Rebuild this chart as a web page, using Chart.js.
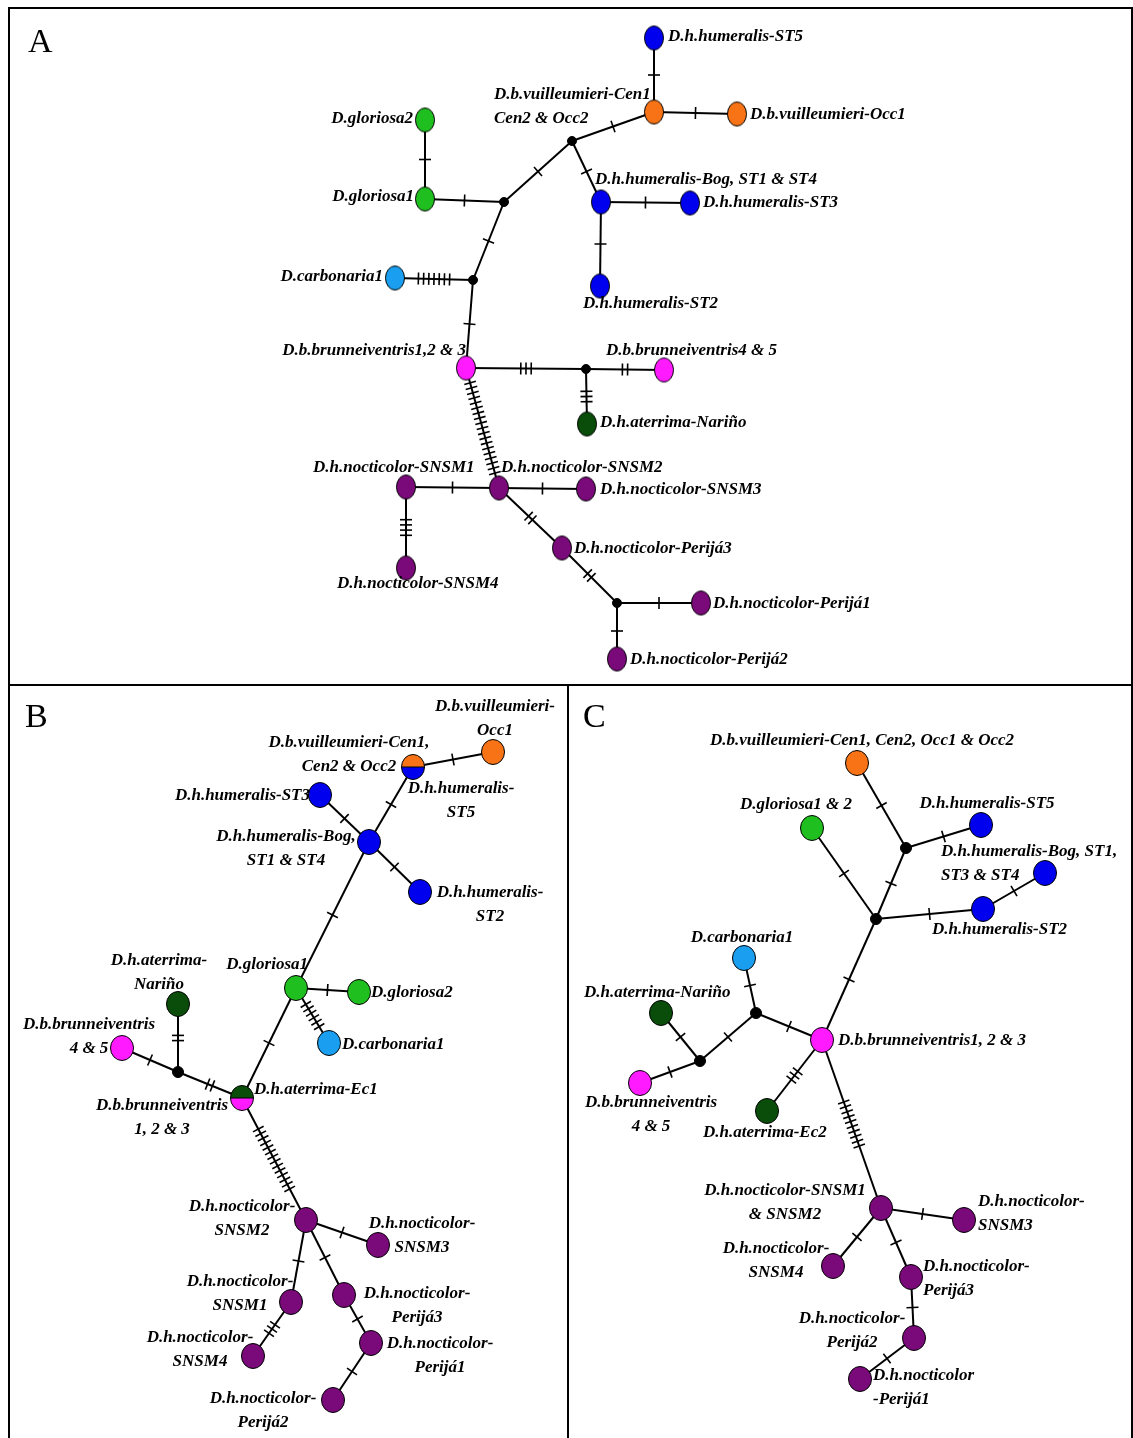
<!DOCTYPE html>
<html>
<head>
<meta charset="utf-8">
<script src="https://cdn.jsdelivr.net/npm/chart.js@4"></script>
<style>
  html, body { margin: 0; padding: 0; background: #fff; }
  #net { display: block; }
</style>
</head>
<body>
<canvas id="net" width="1133" height="1438"></canvas>
<script>
// Haplotype networks A, B, C - nodes, edges (number of mutation steps) and labels

// nodes: id, position on the figure plane, taxon ('mv' = median vector)
var nodeIds = [
  'A.hST5', 'A.vCen', 'A.vOcc1', 'A.mv1', 'A.glo2', 'A.glo1', 'A.mv2', 'A.hBog', 'A.hST3', 'A.hST2',
  'A.car', 'A.mv3', 'A.b123', 'A.mv4', 'A.b45', 'A.aNar', 'A.nS1', 'A.nS2', 'A.nS3', 'A.nS4',
  'A.nP3', 'A.mv5', 'A.nP1', 'A.nP2',
  'B.vOcc1', 'B.vCen', 'B.hST3', 'B.hBog', 'B.hST2', 'B.glo1', 'B.glo2', 'B.car', 'B.aNar', 'B.b45',
  'B.mv1', 'B.aEc1', 'B.nS2', 'B.nS3', 'B.nS1', 'B.nP3', 'B.nS4', 'B.nP1', 'B.nP2',
  'C.vAll', 'C.glo', 'C.hST5', 'C.mv1', 'C.hBog', 'C.mv2', 'C.hST2', 'C.car', 'C.mv3', 'C.aNar',
  'C.mv4', 'C.b123', 'C.b45', 'C.aEc2', 'C.nS12', 'C.nS3', 'C.nS4', 'C.nP3', 'C.nP2', 'C.nP1'
];
var nodeX = [
  654, 654, 737, 572, 425, 425, 504, 601, 690, 600,
  395, 473, 466, 586, 664, 587, 406, 499, 586, 406,
  562, 617, 701, 617,
  493, 413, 320, 369, 420, 296, 359, 329, 178, 122,
  178, 242, 306, 378, 291, 344, 253, 371, 333,
  857, 812, 981, 906, 1045, 876, 983, 744, 756, 661,
  700, 822, 640, 767, 881, 964, 833, 911, 914, 860
];
var nodeY = [
  38, 112, 114, 141, 120, 199, 202, 202, 203, 286,
  278, 280, 368, 369, 370, 424, 487, 488, 489, 568,
  548, 603, 603, 659,
  752, 767, 795, 842, 892, 988, 992, 1043, 1004, 1048,
  1072, 1098, 1220, 1245, 1302, 1295, 1356, 1343, 1400,
  763, 828, 825, 848, 873, 919, 909, 958, 1013, 1013,
  1061, 1040, 1083, 1111, 1208, 1220, 1266, 1277, 1338, 1379
];
var nodeTaxon = [
  'hum', 'vui', 'vui', 'mv', 'glo', 'glo', 'mv', 'hum', 'hum', 'hum',
  'car', 'mv', 'bru', 'mv', 'bru', 'ate', 'noc', 'noc', 'noc', 'noc',
  'noc', 'mv', 'noc', 'noc',
  'vui', 'vui/hum', 'hum', 'hum', 'hum', 'glo', 'glo', 'car', 'ate', 'bru',
  'mv', 'ate/bru', 'noc', 'noc', 'noc', 'noc', 'noc', 'noc', 'noc',
  'vui', 'glo', 'hum', 'mv', 'hum', 'mv', 'hum', 'car', 'mv', 'ate',
  'mv', 'bru', 'bru', 'ate', 'noc', 'noc', 'noc', 'noc', 'noc', 'noc'
];

// edges: from, to, mutation steps
var edgeFrom = [
  'A.hST5', 'A.vCen', 'A.vCen', 'A.mv1', 'A.mv1', 'A.glo2', 'A.glo1', 'A.mv2', 'A.hBog', 'A.hBog',
  'A.car', 'A.mv3', 'A.b123', 'A.mv4', 'A.mv4', 'A.b123', 'A.nS1', 'A.nS2', 'A.nS1', 'A.nS2',
  'A.nP3', 'A.mv5', 'A.mv5',
  'B.vOcc1', 'B.vCen', 'B.hST3', 'B.hBog', 'B.hBog', 'B.glo1', 'B.glo1', 'B.glo1', 'B.b45', 'B.aNar',
  'B.mv1', 'B.aEc1', 'B.nS2', 'B.nS2', 'B.nS2', 'B.nS1', 'B.nP3', 'B.nP1',
  'C.vAll', 'C.mv1', 'C.mv1', 'C.glo', 'C.mv2', 'C.hST2', 'C.mv2', 'C.car', 'C.mv3', 'C.mv3',
  'C.aNar', 'C.mv4', 'C.b123', 'C.b123', 'C.nS12', 'C.nS12', 'C.nS12', 'C.nP3', 'C.nP2'
];
var edgeTo = [
  'A.vCen', 'A.vOcc1', 'A.mv1', 'A.mv2', 'A.hBog', 'A.glo1', 'A.mv2', 'A.mv3', 'A.hST3', 'A.hST2',
  'A.mv3', 'A.b123', 'A.mv4', 'A.b45', 'A.aNar', 'A.nS2', 'A.nS2', 'A.nS3', 'A.nS4', 'A.nP3',
  'A.mv5', 'A.nP1', 'A.nP2',
  'B.vCen', 'B.hBog', 'B.hBog', 'B.hST2', 'B.glo1', 'B.glo2', 'B.car', 'B.aEc1', 'B.mv1', 'B.mv1',
  'B.aEc1', 'B.nS2', 'B.nS3', 'B.nS1', 'B.nP3', 'B.nS4', 'B.nP1', 'B.nP2',
  'C.mv1', 'C.hST5', 'C.mv2', 'C.mv2', 'C.hST2', 'C.hBog', 'C.b123', 'C.mv3', 'C.b123', 'C.mv4',
  'C.mv4', 'C.b45', 'C.aEc2', 'C.nS12', 'C.nS3', 'C.nS4', 'C.nP3', 'C.nP2', 'C.nP1'
];
var edgeSteps = [
  1, 1, 1, 1, 1, 1, 1, 1, 1, 1,
  7, 1, 3, 2, 3, 19, 1, 1, 4, 2,
  2, 1, 1,
  1, 1, 1, 1, 1, 1, 6, 1, 1, 2,
  2, 14, 1, 1, 1, 3, 1, 1,
  1, 1, 1, 1, 1, 1, 1, 1, 1, 1,
  1, 1, 3, 10, 1, 1, 1, 1, 1
];

// label texts (one entry per label)
var labelLines = [
  ['D.h.humeralis-ST5'], ['D.b.vuilleumieri-Cen1', 'Cen2 & Occ2'], ['D.b.vuilleumieri-Occ1'],
  ['D.gloriosa2'], ['D.gloriosa1'], ['D.h.humeralis-Bog, ST1 & ST4'], ['D.h.humeralis-ST3'],
  ['D.h.humeralis-ST2'], ['D.carbonaria1'], ['D.b.brunneiventris1,2 & 3'], ['D.b.brunneiventris4 & 5'],
  ['D.h.aterrima-Nariño'], ['D.h.nocticolor-SNSM1'], ['D.h.nocticolor-SNSM2'], ['D.h.nocticolor-SNSM3'],
  ['D.h.nocticolor-SNSM4'], ['D.h.nocticolor-Perijá3'], ['D.h.nocticolor-Perijá1'], ['D.h.nocticolor-Perijá2'],

  ['D.b.vuilleumieri-', 'Occ1'], ['D.b.vuilleumieri-Cen1,', 'Cen2 & Occ2'], ['D.h.humeralis-', 'ST5'],
  ['D.h.humeralis-ST3'], ['D.h.humeralis-Bog,', 'ST1 & ST4'], ['D.h.humeralis-', 'ST2'],
  ['D.h.aterrima-', 'Nariño'], ['D.gloriosa1'], ['D.gloriosa2'], ['D.carbonaria1'],
  ['D.b.brunneiventris', '4 & 5'], ['D.h.aterrima-Ec1'], ['D.b.brunneiventris', '1, 2 & 3'],
  ['D.h.nocticolor-', 'SNSM2'], ['D.h.nocticolor-', 'SNSM3'], ['D.h.nocticolor-', 'SNSM1'],
  ['D.h.nocticolor-', 'Perijá3'], ['D.h.nocticolor-', 'SNSM4'], ['D.h.nocticolor-', 'Perijá1'],
  ['D.h.nocticolor-', 'Perijá2'],

  ['D.b.vuilleumieri-Cen1, Cen2, Occ1 & Occ2'], ['D.gloriosa1 & 2'], ['D.h.humeralis-ST5'],
  ['D.h.humeralis-Bog, ST1,', 'ST3 & ST4'], ['D.h.humeralis-ST2'], ['D.carbonaria1'],
  ['D.h.aterrima-Nariño'], ['D.b.brunneiventris1, 2 & 3'], ['D.b.brunneiventris', '4 & 5'],
  ['D.h.aterrima-Ec2'], ['D.h.nocticolor-SNSM1', '& SNSM2'], ['D.h.nocticolor-', 'SNSM3'],
  ['D.h.nocticolor-', 'SNSM4'], ['D.h.nocticolor-', 'Perijá3'], ['D.h.nocticolor-', 'Perijá2'],
  ['D.h.nocticolor', '-Perijá1']
];

var panelLetters = ['A', 'B', 'C'];

// ---- layout / style (not data) ----
var labelPlace = [
  [668, 37, 'left'], [494, 95, 'left'], [750, 115, 'left'],
  [413, 119, 'right'], [414, 197, 'right'], [595, 180, 'left'], [703, 203, 'left'],
  [583, 304, 'left'], [383, 277, 'right'], [466, 351, 'right'], [606, 351, 'left'],
  [600, 423, 'left'], [313, 468, 'left'], [501, 468, 'left'], [600, 490, 'left'],
  [337, 584, 'left'], [574, 549, 'left'], [713, 604, 'left'], [630, 660, 'left'],

  [495, 707, 'center'], [349, 743, 'center'], [461, 789, 'center'],
  [310, 796, 'right'], [286, 837, 'center'], [490, 893, 'center'],
  [159, 961, 'center'], [308, 965, 'right'], [371, 993, 'left'], [342, 1045, 'left'],
  [89, 1025, 'center'], [254, 1090, 'left'], [162, 1106, 'center'],
  [242, 1207, 'center'], [422, 1224, 'center'], [240, 1282, 'center'],
  [417, 1294, 'center'], [200, 1338, 'center'], [440, 1344, 'center'],
  [263, 1399, 'center'],

  [862, 741, 'center'], [796, 805, 'center'], [987, 804, 'center'],
  [941, 852, 'left'], [932, 930, 'left'], [742, 938, 'center'],
  [584, 993, 'left'], [838, 1041, 'left'], [651, 1103, 'center'],
  [703, 1133, 'left'], [785, 1191, 'center'], [978, 1202, 'left'],
  [776, 1249, 'center'], [923, 1267, 'left'], [852, 1319, 'center'],
  [873, 1376, 'left']
];
var letterPlace = [[28, 43], [25, 718], [583, 718]];

var taxonColor = {
  hum: '#0000ee', vui: '#f77316', glo: '#1fbf1f', car: '#1a9ff0',
  bru: '#ff1aff', ate: '#0a4d0a', noc: '#7a0a7a', mv: '#000000'
};

function makeNode(rx, ry, top, bottom) {
  var c = document.createElement('canvas');
  c.width = Math.ceil(rx * 2 + 3);
  c.height = Math.ceil(ry * 2 + 3);
  var g = c.getContext('2d');
  var cx = c.width / 2, cy = c.height / 2;
  g.lineWidth = 1;
  g.strokeStyle = '#000';
  if (bottom) {
    g.fillStyle = top;
    g.beginPath(); g.ellipse(cx, cy, rx, ry, 0, Math.PI, 2 * Math.PI); g.fill();
    g.fillStyle = bottom;
    g.beginPath(); g.ellipse(cx, cy, rx, ry, 0, 0, Math.PI); g.fill();
    g.beginPath(); g.moveTo(cx - rx, cy); g.lineTo(cx + rx, cy); g.stroke();
  } else {
    g.fillStyle = top;
    g.beginPath(); g.ellipse(cx, cy, rx, ry, 0, 0, 2 * Math.PI); g.fill();
  }
  g.beginPath(); g.ellipse(cx, cy, rx, ry, 0, 0, 2 * Math.PI); g.stroke();
  return c;
}

var styleCache = {};
function nodeStyle(id, taxon) {
  var panel = id.charAt(0);
  var key = panel + taxon;
  if (styleCache[key]) return styleCache[key];
  var parts = taxon.split('/');
  var s;
  if (taxon === 'mv') {
    s = makeNode(panel === 'A' ? 4.5 : 5.5, panel === 'A' ? 4.5 : 5.5, '#000');
  } else if (panel === 'A') {
    s = makeNode(9.5, 12, taxonColor[parts[0]], parts[1] && taxonColor[parts[1]]);
  } else {
    s = makeNode(11.5, 12.5, taxonColor[parts[0]], parts[1] && taxonColor[parts[1]]);
  }
  styleCache[key] = s;
  return s;
}

var nodePoints = nodeIds.map(function (id, i) { return { x: nodeX[i], y: nodeY[i] }; });

var datasets = [{
  label: 'haplotypes',
  data: nodePoints,
  pointStyle: nodeIds.map(function (id, i) { return nodeStyle(id, nodeTaxon[i]); }),
  pointRadius: 10,
  showLine: false,
  order: 0
}];

edgeFrom.forEach(function (f, i) {
  var a = nodeIds.indexOf(f), b = nodeIds.indexOf(edgeTo[i]);
  datasets.push({
    label: f + '-' + edgeTo[i],
    data: [{ x: nodeX[a], y: nodeY[a] }, { x: nodeX[b], y: nodeY[b] }],
    showLine: true,
    borderColor: '#000',
    borderWidth: 2,
    pointRadius: 0,
    order: 1
  });
});

// mutation hatch marks, labels, panel frames
var networkPlugin = {
  id: 'network',
  afterDatasetsDraw: function (chart) {
    var ctx = chart.ctx;
    var xs = chart.scales.x, ys = chart.scales.y;
    ctx.save();

    // hatch marks
    ctx.strokeStyle = '#000';
    ctx.lineWidth = 1.6;
    edgeFrom.forEach(function (f, i) {
      var a = nodeIds.indexOf(f), b = nodeIds.indexOf(edgeTo[i]);
      var x1 = xs.getPixelForValue(nodeX[a]), y1 = ys.getPixelForValue(nodeY[a]);
      var x2 = xs.getPixelForValue(nodeX[b]), y2 = ys.getPixelForValue(nodeY[b]);
      var len = Math.hypot(x2 - x1, y2 - y1);
      var ux = (x2 - x1) / len, uy = (y2 - y1) / len;
      var px = -uy, py = ux;
      var n = edgeSteps[i], gap = 5.2, half = 6;
      var mx = (x1 + x2) / 2, my = (y1 + y2) / 2;
      for (var k = 0; k < n; k++) {
        var t = (k - (n - 1) / 2) * gap;
        var cx = mx + ux * t, cy = my + uy * t;
        ctx.beginPath();
        ctx.moveTo(cx - px * half, cy - py * half);
        ctx.lineTo(cx + px * half, cy + py * half);
        ctx.stroke();
      }
    });

    // labels
    ctx.fillStyle = '#000';
    ctx.font = 'italic bold 17px "Liberation Serif", "Times New Roman", serif';
    ctx.textBaseline = 'middle';
    labelLines.forEach(function (lines, i) {
      var p = labelPlace[i];
      ctx.textAlign = p[2];
      lines.forEach(function (t, k) {
        ctx.fillText(t, xs.getPixelForValue(p[0]), ys.getPixelForValue(p[1] + k * 24));
      });
    });

    // panel letters
    ctx.font = '34px "Liberation Serif", "Times New Roman", serif';
    ctx.textAlign = 'left';
    panelLetters.forEach(function (l, i) {
      ctx.fillText(l, xs.getPixelForValue(letterPlace[i][0]), ys.getPixelForValue(letterPlace[i][1]));
    });

    // frames
    ctx.lineWidth = 2;
    ctx.beginPath();
    ctx.moveTo(9, 1438); ctx.lineTo(9, 8); ctx.lineTo(1132, 8); ctx.lineTo(1132, 1438);
    ctx.moveTo(9, 685); ctx.lineTo(1132, 685);
    ctx.moveTo(568, 685); ctx.lineTo(568, 1438);
    ctx.stroke();
    ctx.restore();
  }
};

new Chart(document.getElementById('net'), {
  type: 'scatter',
  data: { datasets: datasets },
  options: {
    responsive: false,
    animation: false,
    events: [],
    layout: { padding: 0, autoPadding: false },
    plugins: { legend: { display: false }, tooltip: { enabled: false } },
    scales: {
      x: { type: 'linear', min: 0, max: 1133, display: false },
      y: { type: 'linear', min: 0, max: 1438, reverse: true, display: false }
    }
  },
  plugins: [networkPlugin]
});
</script>
</body>
</html>
